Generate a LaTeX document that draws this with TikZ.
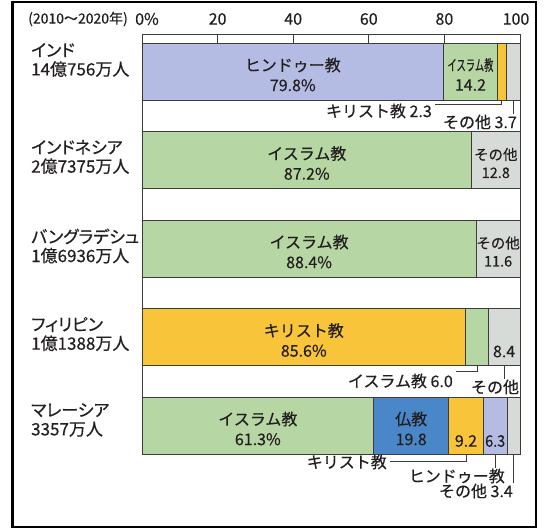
\documentclass[tikz,border=0pt]{standalone}
\usepackage{fontspec}
\usepackage{graphicx}
\setmainfont{Noto Sans CJK JP}[FakeBold=0.4]
\newfontfamily\jpprop{Noto Sans CJK JP}[RawFeature=+palt, FakeBold=0.4]
\usetikzlibrary{calc}
\definecolor{hinducol}{HTML}{B4BCE4}
\definecolor{islamcol}{HTML}{B6D7A3}
\definecolor{christcol}{HTML}{F8C43A}
\definecolor{buddhcol}{HTML}{4A87C9}
\definecolor{othercol}{HTML}{D6DBD8}
\definecolor{barline}{HTML}{3C3C3C}
\definecolor{txt}{HTML}{231F20}
\tikzset{
  segbox/.style={draw=barline, line width=0.9pt, rectangle, inner sep=0pt, outer sep=0pt, minimum height=57pt, anchor=north west},
  lbl/.style={font=\fontsize{16}{20}\selectfont, text=txt, inner sep=0pt, align=center},
  small/.style={font=\fontsize{14.5}{18}\selectfont, text=txt, inner sep=0pt, align=center},
  country/.style={font=\jpprop\fontsize{17}{19}\selectfont, text=txt, inner sep=0pt, align=left, anchor=west},
  leader/.style={draw=barline, line width=0.8pt},
}
\begin{document}
\begin{tikzpicture}[x=1pt,y=-1pt]
\useasboundingbox (0,0) rectangle (546,530);
\fill[white] (0,0) rectangle (546,530);
\draw[line width=2.5pt] (12.5,2) rectangle (536,527);

% chart outline and scale
\draw[barline, line width=0.9pt] (142,34) rectangle (520,454);
\foreach \t in {217.6,293.2,368.8,444.4} \draw[barline, line width=0.9pt] (\t,34) -- (\t,43);
\node[lbl] (s0) at (147,19) {0\%};
\node[lbl] (s20) at (217.6,19) {20};
\node[lbl] (s40) at (293.2,19) {40};
\node[lbl] (s60) at (368.8,19) {60};
\node[lbl] (s80) at (444.4,19) {80};
\node[lbl] (s100) at (516,19) {100};
\node[lbl, font=\fontsize{14}{16}\selectfont] (yr) at (78,19) {(2010～2020年)};

% India
\node[segbox, fill=hinducol, minimum width=301.6pt] (ih) at (142,43) {};
\node[segbox, fill=islamcol, minimum width=53.7pt] (ii) at (443.6,43) {};
\node[segbox, fill=christcol, minimum width=8.7pt] (ic) at (497.3,43) {};
\node[segbox, fill=othercol, minimum width=14pt] (io) at (506,43) {};
\node[lbl] (ihl) at ($(ih.center)+(0,3)$) {ヒンドゥー教\\79.8\%};
\node[lbl] (iil) at ($(ii.center)+(0,3)$) {{\fontsize{15}{20}\selectfont\scalebox{0.62}[1]{イスラム教}}\\14.2};
\node[lbl, anchor=east] (icn) at (432,111) {キリスト教 2.3};
\node[lbl, anchor=east] (ion) at (517,122) {その他 3.7};
\draw[leader] ($(icn.east)+(3,-7)$) -| (ic.south);
\draw[leader] (io.south) -- (io.south |- ion.north);
\node[country] (india) at (31,60) {インド\\14億756万人};

% Indonesia
\node[segbox, fill=islamcol, minimum width=329.6pt] (ni) at (142,131.5) {};
\node[segbox, fill=othercol, minimum width=48.4pt] (no) at (471.6,131.5) {};
\node[lbl] (nil) at ($(ni.center)+(0,3)$) {イスラム教\\87.2\%};
\node[small] (nol) at ($(no.center)+(0,3)$) {その他\\12.8};
\node[country] (indonesia) at (31,157) {インドネシア\\2億7375万人};

% Bangladesh
\node[segbox, fill=islamcol, minimum width=334.2pt] (bi) at (142,220) {};
\node[segbox, fill=othercol, minimum width=43.8pt] (bo) at (476.2,220) {};
\node[lbl] (bil) at ($(bi.center)+(0,3)$) {イスラム教\\88.4\%};
\node[small] (bol) at ($(bo.center)+(0,3)$) {その他\\11.6};
\node[country] (bangladesh) at (31,246) {バングラデシュ\\1億6936万人};

% Philippines
\node[segbox, fill=christcol, minimum width=323.6pt] (pc) at (142,308.5) {};
\node[segbox, fill=islamcol, minimum width=22.6pt] (pi) at (465.6,308.5) {};
\node[segbox, fill=othercol, minimum width=31.8pt] (po) at (488.2,308.5) {};
\node[lbl] (pcl) at ($(pc.center)+(0,3)$) {キリスト教\\85.6\%};
\node[lbl] (pol) at ($(po.south)+(0,-14)$) {8.4};
\node[lbl, anchor=east] (pin) at (453,381) {イスラム教 6.0};
\node[lbl] (pon) at (495,387) {その他};
\draw[leader] ($(pin.east)+(3,-10)$) -| (pi.south);
\draw[leader] (po.south) -- (po.south |- pon.north);
\node[country] (philippines) at (31,334) {フィリピン\\1億1388万人};

% Malaysia
\node[segbox, fill=islamcol, minimum width=231.7pt] (mi) at (142,397) {};
\node[segbox, fill=buddhcol, minimum width=74.9pt] (mb) at (373.7,397) {};
\node[segbox, fill=christcol, minimum width=34.7pt] (mc) at (448.6,397) {};
\node[segbox, fill=hinducol, minimum width=23.8pt] (mh) at (483.3,397) {};
\node[segbox, fill=othercol, minimum width=12.9pt] (mo) at (507.1,397) {};
\node[lbl] (mil) at ($(mi.center)+(0,3)$) {イスラム教\\61.3\%};
\node[lbl] (mbl) at ($(mb.center)+(0,3)$) {仏教\\19.8};
\node[lbl] (mcl) at ($(mc.south)+(0,-13)$) {9.2};
\node[lbl] (mhl) at ($(mh.south)+(0,-13)$) {\scalebox{0.9}[1]{6.3}};
\node[lbl, anchor=east] (mcn) at (387,462) {キリスト教};
\node[lbl, anchor=east] (mhn) at (505,476) {ヒンドゥー教};
\node[lbl, anchor=east] (mon) at (513,491) {その他 3.4};
\draw[leader] ($(mcn.east)+(3,-1)$) -| (mc.south);
\draw[leader] (mh.south) -- (mh.south |- mhn.north);
\draw[leader] (mo.south) -- (mo.south |- mon.north);
\node[country] (malaysia) at (31,420) {マレーシア\\3357万人};
\end{tikzpicture}
\end{document}
